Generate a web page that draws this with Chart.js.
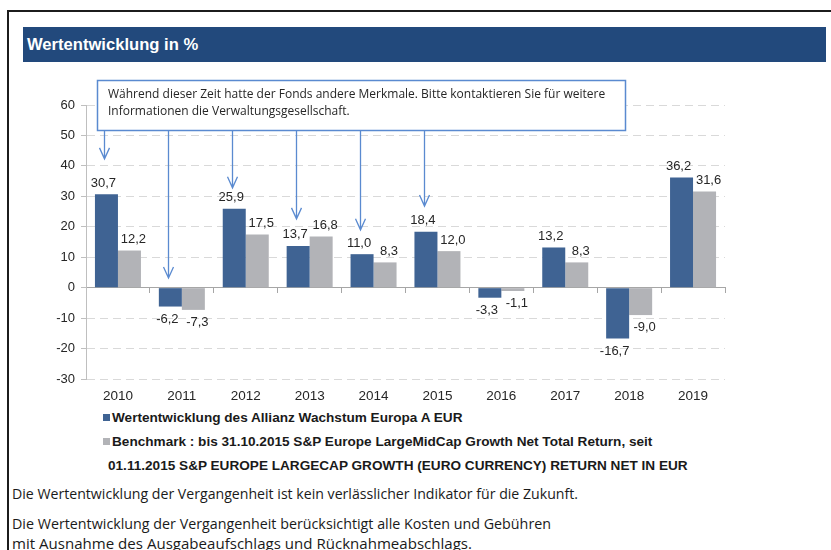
<!DOCTYPE html>
<html>
<head>
<meta charset="utf-8">
<script src="https://cdn.jsdelivr.net/npm/chart.js@4.4.1/dist/chart.umd.min.js"></script>
<style>
html,body{margin:0;padding:0;width:831px;height:550px;overflow:hidden;background:#fff;font-family:"Liberation Sans",Arial,sans-serif;}
#frame{position:absolute;left:7px;top:10px;width:900px;height:600px;border-left:2px solid #1c1c1c;border-top:2px solid #1c1c1c;}
#title{position:absolute;left:23px;top:27px;width:803px;height:35px;background:#22497C;color:#fff;font:bold 16.6px "Liberation Sans",Arial,sans-serif;line-height:35px;padding-left:4px;box-sizing:border-box;}
#chartBox{position:absolute;left:0;top:70px;width:831px;height:340px;}
#legend{position:absolute;left:0;top:0;width:831px;}
.lg{position:absolute;font:bold 13.6px "Liberation Sans",Arial,sans-serif;color:#1a1a1a;white-space:nowrap;line-height:16px;}
.mk{position:absolute;width:7px;height:7px;}
.ft{position:absolute;left:12px;font:15px "Open Sans",sans-serif;color:#1a1a1a;white-space:nowrap;transform-origin:0 50%;line-height:20px;}
</style>
</head>
<body>
<div id="frame"></div>
<div id="title">Wertentwicklung in %</div>
<div id="chartBox"><canvas id="c" width="831" height="340"></canvas></div>
<div id="legend"></div>
<div id="footer"></div>
<script>
// ---- data ----
const years = ['2010','2011','2012','2013','2014','2015','2016','2017','2018','2019'];
const fundValues = [30.7, -6.2, 25.9, 13.7, 11.0, 18.4, -3.3, 13.2, -16.7, 36.2];
const benchmarkValues = [12.2, -7.3, 17.5, 16.8, 8.3, 12.0, -1.1, 8.3, -9.0, 31.6];
const yTickValues = [-30, -20, -10, 0, 10, 20, 30, 40, 50, 60];
const fundLabel = 'Wertentwicklung des Allianz Wachstum Europa A EUR';
const benchmarkLabelLines = ['Benchmark : bis 31.10.2015 S&P Europe LargeMidCap Growth Net Total Return, seit',
                             '01.11.2015 S&P EUROPE LARGECAP GROWTH (EURO CURRENCY) RETURN NET IN EUR'];
const noteLines = ['Während dieser Zeit hatte der Fonds andere Merkmale. Bitte kontaktieren Sie für weitere',
                   'Informationen die Verwaltungsgesellschaft.'];
const noteYears = ['2010','2011','2012','2013','2014','2015'];
const noteArrowTipValues = [42.3, 3.2, 32.8, 22.6, 19.0, 26.8];
const footerLines = ['Die Wertentwicklung der Vergangenheit ist kein verlässlicher Indikator für die Zukunft.',
                     'Die Wertentwicklung der Vergangenheit berücksichtigt alle Kosten und Gebühren',
                     'mit Ausnahme des Ausgabeaufschlags und Rücknahmeabschlags.'];

const BLUE = '#3F6393', GRAY = '#B2B3B7';
const FONT = '"Liberation Sans", Arial, sans-serif';
const fmt = v => v.toFixed(1).replace('.', ',');

const valueLabels = {
  id: 'valueLabels',
  afterDatasetsDraw(chart) {
    const ctx = chart.ctx;
    ctx.save();
    ctx.font = '13px ' + FONT;
    ctx.fillStyle = '#262626';
    ctx.textAlign = 'center';
    ctx.textBaseline = 'alphabetic';
    chart.data.datasets.forEach((ds, di) => {
      const dx = di === 0 ? -3 : 4;
      chart.getDatasetMeta(di).data.forEach((bar, i) => {
        const v = ds.data[i];
        const y = v >= 0 ? bar.y - 7.5 : bar.y + 16;
        ctx.fillText(fmt(v), bar.x + dx, y);
      });
    });
    ctx.restore();
  }
};

const noteBox = {
  id: 'noteBox',
  afterDatasetsDraw(chart) {
    const ctx = chart.ctx;
    const yS = chart.scales.y;
    const meta = chart.getDatasetMeta(0);
    const bx = 97, by = 10, bw = 528, bh = 50;
    ctx.save();
    ctx.strokeStyle = '#5A8AD0';
    ctx.lineWidth = 1.3;
    noteYears.forEach((yr, k) => {
      const idx = years.indexOf(yr);
      const x = Math.round(meta.data[idx].x) - 1.5;
      const tip = yS.getPixelForValue(noteArrowTipValues[k]);
      ctx.beginPath();
      ctx.moveTo(x, by + bh);
      ctx.lineTo(x, tip);
      ctx.moveTo(x - 5, tip - 11);
      ctx.lineTo(x, tip);
      ctx.lineTo(x + 5, tip - 11);
      ctx.stroke();
    });
    ctx.fillStyle = '#fff';
    ctx.fillRect(bx, by, bw, bh);
    ctx.lineWidth = 1.5;
    ctx.strokeRect(bx + 0.5, by + 0.5, bw, bh);
    ctx.fillStyle = '#262626';
    ctx.font = '12px "Open Sans", sans-serif';
    ctx.textBaseline = 'middle';
    ctx.fillText(noteLines[0], 108, by + 15);
    ctx.fillText(noteLines[1], 108, by + 32);
    ctx.restore();
  }
};

new Chart(document.getElementById('c'), {
  type: 'bar',
  data: {
    labels: years,
    datasets: [
      { label: fundLabel, data: fundValues, backgroundColor: BLUE, xAxisID: 'x' },
      { label: benchmarkLabelLines.join(' '), data: benchmarkValues, backgroundColor: GRAY, xAxisID: 'x' }
    ]
  },
  options: {
    responsive: false,
    animation: false,
    layout: { padding: { left: 0, right: 106, top: 35, bottom: 0 } },
    datasets: { bar: { categoryPercentage: 0.72, barPercentage: 1.0 } },
    plugins: { legend: { display: false }, tooltip: { enabled: false } },
    scales: {
      x: {
        position: 'bottom',
        grid: { display: false },
        border: { display: false },
        ticks: { color: '#262626', font: { size: 13.5, family: FONT }, padding: 1 },
        afterFit(s) { s.height = 31; }
      },
      x2: {
        type: 'category',
        axis: 'x',
        position: { y: 0 },
        offset: true,
        grid: { offset: true, drawOnChartArea: false, drawTicks: true, tickLength: 5, color: '#A6A6A6' },
        border: { display: true, color: '#A6A6A6', width: 1 },
        ticks: { display: false }
      },
      y: {
        min: -30, max: 60,
        afterBuildTicks(s) { s.ticks = yTickValues.map(v => ({ value: v })); },
        grid: { color: '#D9D9D9', tickColor: '#BFBFBF', tickLength: 5, lineWidth: 1 },
        border: { display: true, color: '#BFBFBF', width: 1, dash: [8, 5] },
        ticks: { color: '#262626', font: { size: 13, family: FONT }, padding: 6 },
        afterFit(s) { s.width = 86; }
      }
    }
  },
  plugins: [valueLabels, noteBox]
});

// legend (HTML, built from series labels)
const lg = document.getElementById('legend');
function addItem(color, lines, top) {
  const m = document.createElement('div');
  m.className = 'mk'; m.style.background = color; m.style.left = '103px'; m.style.top = (top - 4) + 'px';
  lg.appendChild(m);
  lines.forEach((t, i) => {
    const d = document.createElement('div');
    d.className = 'lg'; d.textContent = t;
    d.style.left = (i === 0 ? 112 : 108) + 'px';
    d.style.top = (top - 8 + i * 24) + 'px';
    lg.appendChild(d);
  });
}
addItem(BLUE, [fundLabel], 418);
addItem(GRAY, benchmarkLabelLines, 442);

// footer
const ft = document.getElementById('footer');
const footerTops = [483, 513, 533];
const footerWidths = [566, 539, 460];
footerLines.forEach((t, i) => {
  const d = document.createElement('div');
  d.className = 'ft'; d.textContent = t; d.style.top = footerTops[i] + 'px';
  ft.appendChild(d);
  const w = d.getBoundingClientRect().width;
  d.style.transform = 'scaleX(' + (footerWidths[i] / w) + ')';
});
</script>
</body>
</html>
